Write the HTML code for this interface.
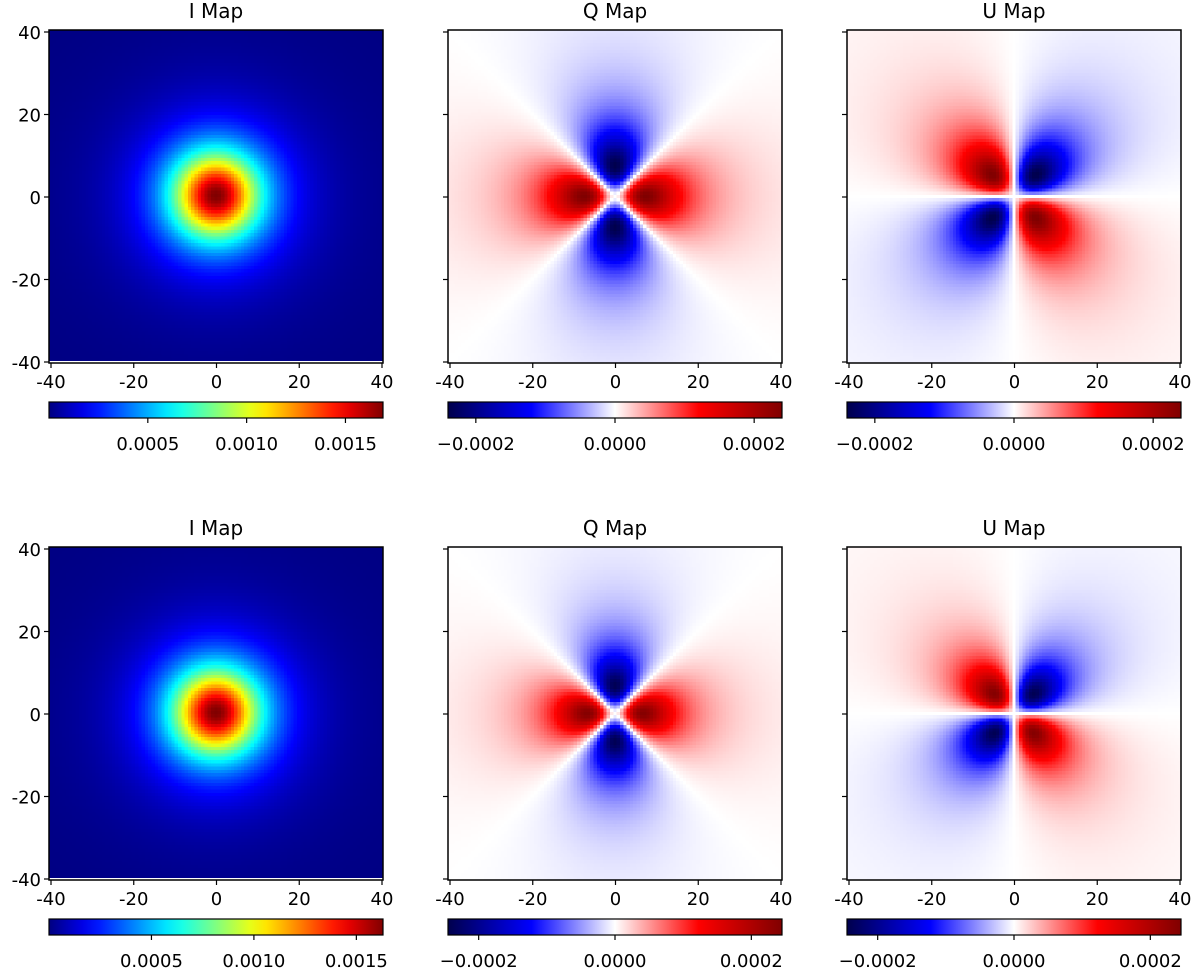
<!DOCTYPE html>
<html><head><meta charset="utf-8">
<style>
html,body{margin:0;padding:0;background:#fff;width:1200px;height:968px;overflow:hidden}
#wrap{position:relative;width:1200px;height:968px}
canvas{position:absolute;image-rendering:pixelated}
svg{position:absolute;left:0;top:0}
text{font-family:"DejaVu Sans","Liberation Sans",sans-serif;fill:#000}
</style></head>
<body>
<div id="wrap">
<svg id="ov" width="1200" height="968"></svg>
</div>
<script>
// ---- data ----
const panelTitles = ["I Map","Q Map","U Map"];
const axisTicks = [-40,-20,0,20,40];
const axisTickLabels = ["-40","-20","0","20","40"];
const iPeak = [0.00169, 0.00163];
const iCore = [14.8, 14.8];
const iRange = [[0,0.00169],[0,0.00163]];
const iCbTicks = [0.0005,0.0010,0.0015];
const iCbLabels = ["0.0005","0.0010","0.0015"];
const qPeak = [0.00024, 0.00024];
const qRadius = [7.5, 6.8];
const uPeak = [0.00024, 0.00024];
const uRadius = [7.5, 6.8];
const polRange = [[-0.00024,0.00024],[-0.000245,0.000245]];
const polCbTicks = [-0.0002,0,0.0002];
const polCbLabels = ["\u22120.0002","0.0000","0.0002"];
const gridN = 101;

// ---- layout ----
const colX = [49,448,847], W = 334;
const rowY = [30,547], H = 333;
const cbOff = 372, cbH = 16;
const NS = "http://www.w3.org/2000/svg";
const ov = document.getElementById('ov');
const wrap = document.getElementById('wrap');

function jet(t){
  t=Math.max(0,Math.min(1,t));
  const f=(x)=>Math.max(0,Math.min(1,x));
  return [f(1.5-Math.abs(4*t-3)),f(1.5-Math.abs(4*t-2)),f(1.5-Math.abs(4*t-1))].map(v=>Math.round(v*255));
}
function seismic(t){
  t=Math.max(0,Math.min(1,t));
  const s=[[0,0,0,0.3],[0.25,0,0,1],[0.5,1,1,1],[0.75,1,0,0],[1,0.5,0,0]];
  for(let i=0;i<4;i++){ if(t<=s[i+1][0]){const a=s[i],b=s[i+1],u=(t-a[0])/(b[0]-a[0]);
    return [1,2,3].map(k=>Math.round((a[k]+(b[k]-a[k])*u)*255));}}
  return [128,0,0];
}
const polNorm = 1/Math.pow(1+1/1.5,2.5);
function polProfile(r,a){const x=r/a;return (x*x/Math.pow(1+x*x/1.5,2.5))/polNorm;}
function field(kind,row,x,y){
  const r=Math.hypot(x,y), th=Math.atan2(y,x);
  if(kind===0) return iPeak[row]*Math.pow(1+r*r/(iCore[row]*iCore[row]),-2);
  if(kind===1) return qPeak[row]*polProfile(r,qRadius[row])*Math.cos(2*th);
  return -uPeak[row]*polProfile(r,uRadius[row])*Math.sin(2*th);
}
function el(tag,attrs,name,inter,parent){
  const e=document.createElementNS(NS,tag);
  for(const k in attrs) e.setAttribute(k,attrs[k]);
  
  
  (parent||ov).appendChild(e); return e;
}
function txt(x,y,s,size,anchor,name){
  const t=el('text',{x:x,y:y,'font-size':size,'text-anchor':anchor||'middle'},name,'false');
  t.textContent=s; return t;
}
for(let row=0;row<2;row++){
  for(let col=0;col<3;col++){
    const x0=colX[col], y0=rowY[row];
    const rng = col===0?iRange[row]:polRange[row];
    const cmap = col===0?jet:seismic;
    const c=document.createElement('canvas');
    c.width=gridN;c.height=gridN;
    c.style.left=x0+'px';c.style.top=y0+'px';c.style.width=W+'px';c.style.height=(col===0?H-2:H)+'px';
    
    
    wrap.insertBefore(c,ov);
    const ctx=c.getContext('2d'), img=ctx.createImageData(gridN,gridN);
    for(let j=0;j<gridN;j++)for(let i=0;i<gridN;i++){
      const xv=-40+80*i/(gridN-1), yv=40-80*j/(gridN-1);
      const v=field(col,row,xv,yv);
      const rgb=cmap((v-rng[0])/(rng[1]-rng[0]));
      const p=(j*gridN+i)*4; img.data[p]=rgb[0];img.data[p+1]=rgb[1];img.data[p+2]=rgb[2];img.data[p+3]=255;
    }
    ctx.putImageData(img,0,0);
    el('rect',{x:x0,y:y0,width:W,height:H,fill:'none',stroke:'#000','stroke-width':1.5},'plot-frame','false');
    txt(x0+W/2,y0-12,panelTitles[col],20,'middle','panel-title');
    const sx=v=>x0+2+(v+40)/80*(W-3), sy=v=>y0+2+(40-v)/80*(H-3);
    axisTicks.forEach((tv,k)=>{
      el('line',{x1:sx(tv),x2:sx(tv),y1:y0+H,y2:y0+H+5,stroke:'#000','stroke-width':1.2},'x-tick','false');
      txt(sx(tv),y0+H+25,axisTickLabels[k],18,'middle','x-tick-label');
      el('line',{x1:x0-5,x2:x0,y1:sy(tv),y2:sy(tv),stroke:'#000','stroke-width':1.2},'y-tick','false');
      if(col===0) txt(x0-8,sy(tv)+7,axisTickLabels[k],18,'end','y-tick-label');
    });
    const cy=y0+cbOff;
    const gid='g'+row+col;
    const defs=el('defs',{},'defs','false');
    const lg=el('linearGradient',{id:gid,x1:0,x2:1,y1:0,y2:0},'colorbar-gradient','false',defs);
    for(let s=0;s<=20;s++){const rgb=cmap(s/20);
      el('stop',{offset:s/20,'stop-color':'rgb('+rgb.join(',')+')'},'gradient-stop','false',lg);}
    el('rect',{x:x0,y:cy,width:W,height:cbH,fill:'url(#'+gid+')',stroke:'#000','stroke-width':1.2},'colorbar','false');
    const ct = col===0?iCbTicks:polCbTicks, cl = col===0?iCbLabels:polCbLabels;
    ct.forEach((tv,k)=>{
      const px=x0+(tv-rng[0])/(rng[1]-rng[0])*W;
      el('line',{x1:px,x2:px,y1:cy+cbH,y2:cy+cbH+5,stroke:'#000','stroke-width':1.2},'colorbar-tick','false');
      txt(px,cy+cbH+32,cl[k],18,'middle','colorbar-tick-label');
    });
  }
}
</script>
</body></html>
